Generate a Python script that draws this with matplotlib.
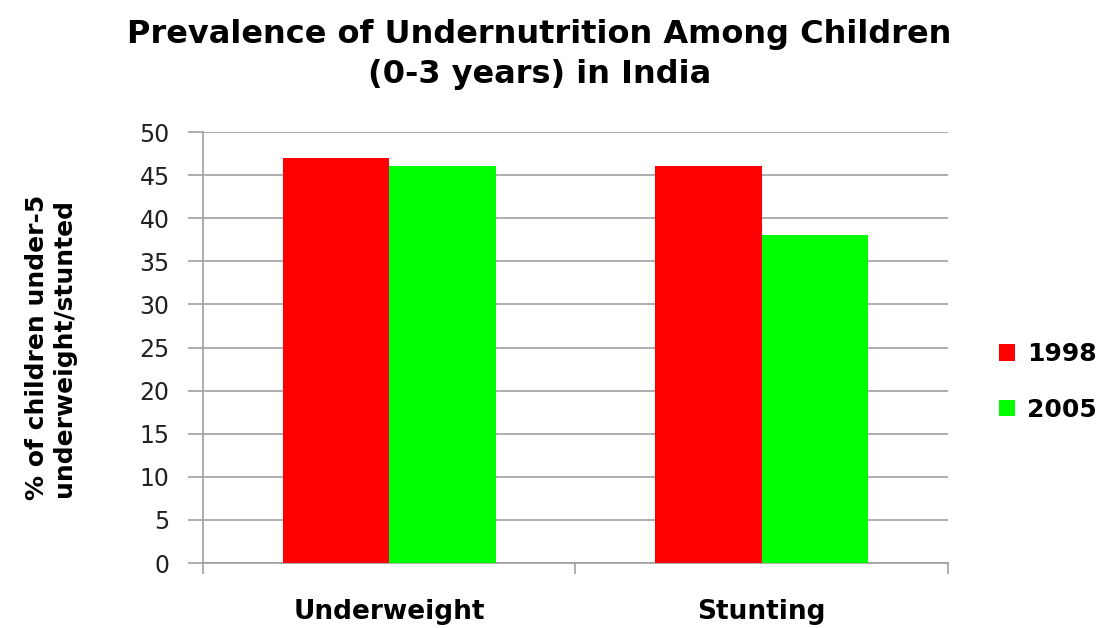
import matplotlib.pyplot as plt
import numpy as np

categories = ["Underweight", "Stunting"]
years = ["1998", "2005"]
values_1998 = [47, 46]
values_2005 = [46, 38]
colors = ["#ff0000", "#00ff00"]

plt.rcParams['font.family'] = ['DejaVu Sans']

fig = plt.figure(figsize=(11.01, 6.28), dpi=100)
ax = fig.add_axes([0.1844, 0.1035, 0.6766, 0.6863])

x = np.arange(len(categories))
w = 0.286
ax.bar(x - w / 2, values_1998, w, color=colors[0], label=years[0], zorder=3)
ax.bar(x + w / 2, values_2005, w, color=colors[1], label=years[1], zorder=3)

ax.set_xlim(-0.5, 1.5)
ax.set_ylim(0, 50)
ax.set_yticks(range(0, 51, 5))
ax.yaxis.grid(True, color='#a0a0a0', linewidth=1.2, zorder=0)

for s in ['top', 'right']:
    ax.spines[s].set_visible(False)
for s in ['left', 'bottom']:
    ax.spines[s].set_color('#a0a0a0')
    ax.spines[s].set_linewidth(1.2)

ax.tick_params(axis='y', length=11, width=1.2, color='#a0a0a0', pad=13, labelsize=17,
               labelcolor='#222222')
ax.set_xticks(x)
ax.set_xticklabels(categories, fontsize=19, fontweight='bold')
ax.tick_params(axis='x', which='major', length=0, pad=26)
ax.set_xticks([-0.5, 0.5, 1.5], minor=True)
ax.tick_params(axis='x', which='minor', length=8, width=1.2, color='#a0a0a0')

ax.set_ylabel("% of children under-5\nunderweight/stunted", fontsize=18,
              fontweight='bold', linespacing=1.2)
ax.yaxis.set_label_coords(-0.17, 0.50)

fig.text(0.49, 0.97, "Prevalence of Undernutrition Among Children\n(0-3 years) in India",
         ha='center', va='top', fontsize=23, fontweight='bold', linespacing=1.4)

ax.legend(loc='center left', bbox_to_anchor=(1.068, 0.42), frameon=False,
          prop={'size': 18, 'weight': 'bold'}, handlelength=0.64, handleheight=0.64,
          labelspacing=1.25, handletextpad=0.5, borderpad=0, borderaxespad=0)

plt.savefig("out.png", dpi=100)
